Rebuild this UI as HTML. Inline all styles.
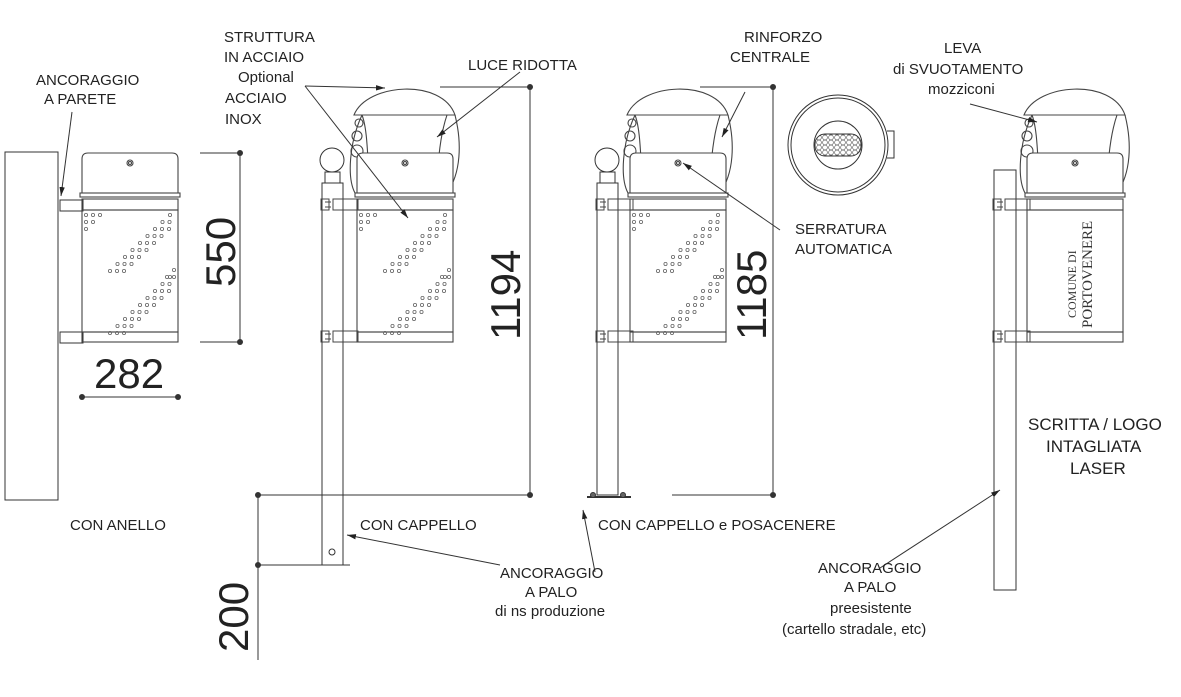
<!DOCTYPE html>
<html><head><meta charset="utf-8"><style>
html,body{margin:0;padding:0;background:#fff;}
svg{display:block;font-family:"Liberation Sans",sans-serif;}
text{fill:#222;}
</style></head><body>
<svg id="s" width="1181" height="697" viewBox="0 0 1181 697" xmlns="http://www.w3.org/2000/svg">
<defs>
<marker id="ar" viewBox="0 0 10 10" refX="10" refY="5" markerWidth="9" markerHeight="9" orient="auto-start-reverse"><path d="M0,2 L10,5 L0,8 z" fill="#222"/></marker>
<g id="body" fill="none" stroke="#444" stroke-width="1.1">
<path d="M0,40 V6 Q0,0 6,0 H90 Q96,0 96,6 V40 Z" fill="#fff"/>
<rect x="-2" y="40" width="100" height="4" fill="#fff"/>
<rect x="0" y="46" width="96" height="11"/>
<rect x="0" y="57" width="96" height="122"/>
<rect x="0" y="179" width="96" height="10"/>
<circle cx="48" cy="10" r="3"/><circle cx="48" cy="10" r="1.5"/>
</g>
<g id="cap" fill="none" stroke="#444" stroke-width="1.1">
<path d="M-2,40 C-10,25 -8,-10 5,-38 M98,-38 C105,-10 104,20 90,40" />
<path d="M5,-38 C12,-20 10,20 14,40"/>
<path d="M90,-38 C82,-15 80,20 80,40"/>
<circle cx="2" cy="-30" r="4"/><circle cx="0" cy="-17" r="5"/><circle cx="0" cy="-2" r="6"/>
<path d="M-3,-38 C10,-70 85,-75 98,-38 Z" fill="#fff"/>
</g>
<g id="brk" fill="none" stroke="#444" stroke-width="1">
<rect x="0" y="0" width="25" height="11"/>
<rect x="-12" y="0" width="8" height="11"/>
<path d="M-8,3 h6 M-8,8 h6"/>
</g>
<g id="dots"></g>
</defs>

<g fill="none" stroke="#333" stroke-width="1">
<!-- bin 1 wall -->
<rect x="5" y="152" width="53" height="348"/>
<rect x="60" y="200" width="23" height="11"/>
<rect x="60" y="332" width="23" height="11"/>
</g>
<use href="#body" x="82" y="153"/>
<use href="#dots" x="82" y="153"/>

<!-- bin 2 -->
<g fill="none" stroke="#333" stroke-width="1">
<rect x="322" y="183" width="21" height="382"/>
<rect x="325" y="172" width="15" height="11"/>
<circle cx="332" cy="160" r="12"/>
<circle cx="332" cy="552" r="3"/>
</g>
<use href="#cap" x="357" y="153"/>
<use href="#body" x="357" y="153"/>
<use href="#dots" x="357" y="153"/>
<use href="#brk" x="333" y="199"/>
<use href="#brk" x="333" y="331"/>

<!-- bin 3 -->
<g fill="none" stroke="#333" stroke-width="1">
<rect x="597" y="183" width="21" height="312"/>
<rect x="600" y="172" width="15" height="11"/>
<circle cx="607" cy="160" r="12"/>
<line x1="587" y1="497" x2="631" y2="497" stroke-width="2"/>
<circle cx="593" cy="495" r="2.5" fill="#666"/><circle cx="623" cy="495" r="2.5" fill="#666"/>
</g>
<use href="#cap" x="630" y="153"/>
<use href="#body" x="630" y="153"/>
<use href="#dots" x="630" y="153"/>
<use href="#brk" x="608" y="199"/>
<use href="#brk" x="608" y="331"/>

<!-- top view -->
<g fill="none" stroke="#333" stroke-width="1">
<circle cx="838" cy="145" r="50"/><circle cx="838" cy="145" r="47"/>
<circle cx="838" cy="145" r="24"/>
<rect x="815" y="134" width="46" height="22" rx="10" fill="url(#hx)"/>
<path d="M887,131 h7 v27 h-7"/>
</g>
<defs><pattern id="hx" width="6" height="5" patternUnits="userSpaceOnUse"><circle cx="3" cy="2.5" r="2.4" fill="none" stroke="#555" stroke-width="0.6"/></pattern></defs>

<!-- bin 4 -->
<g fill="none" stroke="#333" stroke-width="1">
<rect x="994" y="170" width="22" height="420"/>
</g>
<use href="#cap" x="1027" y="153"/>
<use href="#body" x="1027" y="153"/>
<use href="#brk" x="1005" y="199"/>
<use href="#brk" x="1005" y="331"/>
<text transform="translate(1076,318) rotate(-90)" font-family="Liberation Serif,serif" font-size="12" style="fill:#333">COMUNE  DI</text>
<text transform="translate(1092,328) rotate(-90)" font-family="Liberation Serif,serif" font-size="15" style="fill:#333">PORTOVENERE</text>

<!-- dimensions -->
<g stroke="#333" stroke-width="1" fill="none">
<line x1="200" y1="153" x2="240" y2="153"/><line x1="200" y1="342" x2="240" y2="342"/>
<line x1="240" y1="153" x2="240" y2="342"/>
<line x1="82" y1="397" x2="178" y2="397"/>
<line x1="440" y1="87" x2="530" y2="87"/><line x1="530" y1="87" x2="530" y2="495"/>
<line x1="258" y1="495" x2="530" y2="495"/>
<line x1="258" y1="495" x2="258" y2="660"/>
<line x1="258" y1="565" x2="350" y2="565"/>
<line x1="700" y1="87" x2="773" y2="87"/><line x1="773" y1="87" x2="773" y2="495"/>
<line x1="672" y1="495" x2="773" y2="495"/>
</g>
<g fill="#333">
<circle cx="240" cy="153" r="3"/><circle cx="240" cy="342" r="3"/>
<circle cx="82" cy="397" r="3"/><circle cx="178" cy="397" r="3"/>
<circle cx="530" cy="87" r="3"/><circle cx="530" cy="495" r="3"/>
<circle cx="258" cy="495" r="3"/><circle cx="258" cy="565" r="3"/>
<circle cx="773" cy="87" r="3"/><circle cx="773" cy="495" r="3"/>
</g>
<g font-size="42" style="fill:#222">
<text transform="translate(235,287) rotate(-90)">550</text>
<text x="94" y="388">282</text>
<text transform="translate(520,340) rotate(-90)">1194</text>
<text transform="translate(766,340) rotate(-90)">1185</text>
<text transform="translate(248,652) rotate(-90)">200</text>
</g>

<!-- leaders -->
<g stroke="#333" stroke-width="1" fill="none" marker-end="url(#ar)">
<path d="M72,112 L61,196"/>
<path d="M305,86 L385,88"/>
<path d="M305,86 L408,218"/>
<path d="M520,72 L437,137"/>
<path d="M745,92 L722,137"/>
<path d="M780,230 L683,163"/>
<path d="M970,104 L1037,122"/>
<path d="M595,572 L583,510"/>
<path d="M500,565 L347,535"/>
<path d="M880,568 L1000,490"/>
</g>

<g font-size="15">
<text x="36" y="85">ANCORAGGIO</text>
<text x="44" y="104">A PARETE</text>
<text x="224" y="42">STRUTTURA</text>
<text x="224" y="62">IN ACCIAIO</text>
<text x="238" y="82">Optional</text>
<text x="225" y="103">ACCIAIO</text>
<text x="225" y="124">INOX</text>
<text x="468" y="70">LUCE RIDOTTA</text>
<text x="744" y="42">RINFORZO</text>
<text x="730" y="62">CENTRALE</text>
<text x="944" y="53">LEVA</text>
<text x="893" y="74">di SVUOTAMENTO</text>
<text x="928" y="94">mozziconi</text>
<text x="795" y="234">SERRATURA</text>
<text x="795" y="254">AUTOMATICA</text>
<text x="70" y="530">CON ANELLO</text>
<text x="360" y="530">CON CAPPELLO</text>
<text x="598" y="530">CON CAPPELLO e POSACENERE</text>
<text x="500" y="578">ANCORAGGIO</text>
<text x="525" y="597">A PALO</text>
<text x="495" y="616">di ns produzione</text>
<text x="818" y="573">ANCORAGGIO</text>
<text x="844" y="592">A PALO</text>
<text x="830" y="613">preesistente</text>
<text x="782" y="634">(cartello stradale, etc)</text>
<text x="1028" y="430" font-size="17">SCRITTA / LOGO</text>
<text x="1046" y="452" font-size="17">INTAGLIATA</text>
<text x="1070" y="474" font-size="17">LASER</text>
</g>
</svg>
<script>
var g=document.getElementById('dots'),ns='http://www.w3.org/2000/svg',s='';
function d(x,y){s+='<circle cx="'+x+'" cy="'+y+'" r="1.6" fill="none" stroke="#666" stroke-width="0.8"/>';}
// two diagonal bands
for(var b=0;b<2;b++){
 for(var i=0;i<9;i++){
  var y=62+i*7+b*62;
  var x=88-i*7.5;
  for(var k=0;k<3;k++){var xx=x+k*7-7*0;if(xx>3&&xx<93)d(xx,y);}
 }
}
for(var k=0;k<3;k++)d(4+k*7,62);d(4,69);d(11,69);d(4,76);
d(92,117);d(92,124);d(85,124);
g.innerHTML=s;
</script>
</body></html>
